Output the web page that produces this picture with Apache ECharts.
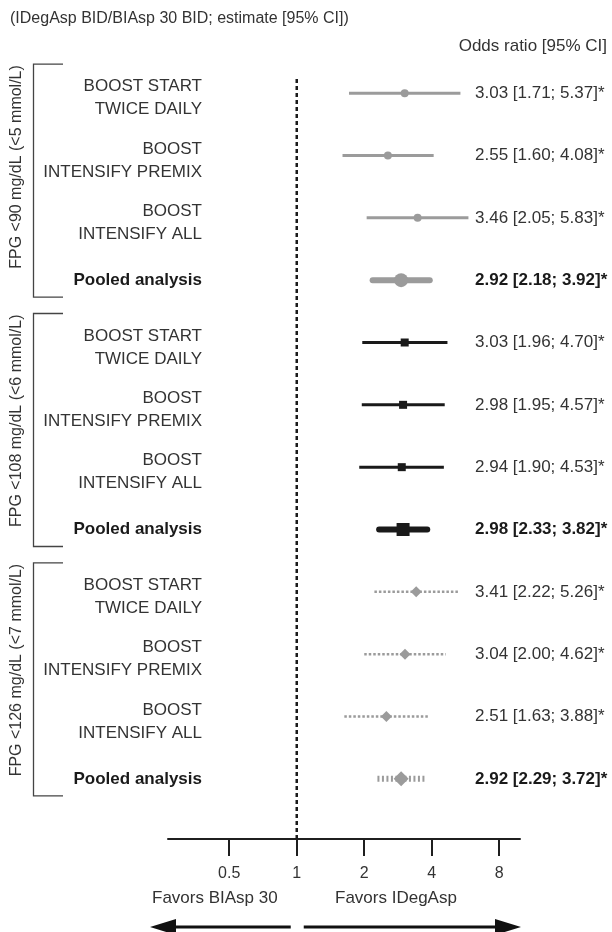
<!DOCTYPE html>
<html><head><meta charset="utf-8">
<script src="https://cdn.jsdelivr.net/npm/echarts@6/dist/echarts.min.js"></script>
<style>html,body{margin:0;padding:0;background:#fff}#c{width:612px;height:932px}</style>
</head><body><div id="c"></div>
<script>
// ---- data ----
const titleText = '(IDegAsp BID/BIAsp 30 BID; estimate [95% CI])';
const columnHeader = 'Odds ratio [95% CI]';
const groupLabels = ['FPG <90 mg/dL (<5 mmol/L)', 'FPG <108 mg/dL (<6 mmol/L)', 'FPG <126 mg/dL (<7 mmol/L)'];
const studies = ['BOOST START\nTWICE DAILY', 'BOOST\nINTENSIFY PREMIX', 'BOOST\nINTENSIFY ALL', 'Pooled analysis'];
const est90  = [3.03, 2.55, 3.46, 2.92];
const lo90   = [1.71, 1.60, 2.05, 2.18];
const hi90   = [5.37, 4.08, 5.83, 3.92];
const est108 = [3.03, 2.98, 2.94, 2.98];
const lo108  = [1.96, 1.95, 1.90, 2.33];
const hi108  = [4.70, 4.57, 4.53, 3.82];
const est126 = [3.41, 3.04, 2.51, 2.92];
const lo126  = [2.22, 2.00, 1.63, 2.29];
const hi126  = [5.26, 4.62, 3.88, 3.72];
const tickValues = [0.5, 1, 2, 4, 8];
const tickLabels = ['0.5', '1', '2', '4', '8'];
const axisMin = 0.2666, axisMax = 9.9;
const favorsLeft = 'Favors BIAsp 30';
const favorsRight = 'Favors IDegAsp';

// ---- build ----
const estAll = [est90, est108, est126], loAll = [lo90, lo108, lo126], hiAll = [hi90, hi108, hi126];
const rows = [], rowIds = [];
for (let g = 0; g < 3; g++) {
  for (let s = 0; s < studies.length; s++) {
    const r = g * studies.length + s;
    rowIds.push(String(r));
    rows.push([r, loAll[g][s], estAll[g][s], hiAll[g][s], g, s === studies.length - 1 ? 1 : 0, s]);
  }
}
const groupData = groupLabels.map((l, g) => [g * 4, g * 4 + 3, g]);

const FONT = '"Liberation Sans", Arial, sans-serif';
const TXT = '#333';
const GRAY = '#9b9b9b', BLACK = '#1a1a1a';
const styles = [
  { color: GRAY, shape: 'circle', lw: 3, lwP: 6, size: 8, sizeP: 14, dash: null, dashP: null },
  { color: BLACK, shape: 'square', lw: 3, lwP: 6, size: 8, sizeP: 13, dash: null, dashP: null },
  { color: GRAY, shape: 'diamond', lw: 2.5, lwP: 6, size: 11, sizeP: 15, dash: [2.5, 2], dashP: [2, 2.5] }
];

function marker(shape, cx, cy, sz, color) {
  const h = sz / 2;
  if (shape === 'circle') return { type: 'circle', shape: { cx, cy, r: h }, style: { fill: color } };
  if (shape === 'square') return { type: 'rect', shape: { x: cx - h, y: cy - h, width: sz, height: sz }, style: { fill: color } };
  return { type: 'polygon', shape: { points: [[cx, cy - h], [cx + h, cy], [cx, cy + h], [cx - h, cy]] }, style: { fill: color } };
}

const chart = echarts.init(document.getElementById('c'), null, { renderer: 'canvas' });
chart.setOption({
  animation: false,
  grid: { left: 168, right: 92, top: 62, bottom: 122 },
  xAxis: {
    type: 'log', logBase: 2, min: axisMin, max: axisMax, offset: 29,
    axisLine: { show: true, lineStyle: { color: '#1f1f1f', width: 2 } },
    axisTick: { show: true, length: 17, lineStyle: { color: '#1f1f1f', width: 2 }, customValues: tickValues },
    axisLabel: {
      customValues: tickValues, margin: 27, color: TXT, fontSize: 16, fontFamily: FONT,
      formatter: v => { let best = 0; tickValues.forEach((t, i) => { if (Math.abs(t - v) < Math.abs(tickValues[best] - v)) best = i; }); return tickLabels[best]; }
    },
    splitLine: { show: false }, minorTick: { show: false }
  },
  yAxis: { type: 'category', data: rowIds, inverse: true, show: false },
  series: [
    {
      type: 'custom', data: rows, encode: { x: [1, 2, 3], y: 0 }, clip: false,
      renderItem: (params, api) => {
        const row = api.value(0), g = api.value(4), pooled = api.value(5), s = api.value(6);
        const pLo = api.coord([api.value(1), row]);
        const pEst = api.coord([api.value(2), row]);
        const pHi = api.coord([api.value(3), row]);
        const st = styles[g];
        const cy = pEst[1];
        const children = [];
        children.push({
          type: 'line', shape: { x1: pLo[0], y1: cy, x2: pHi[0], y2: cy },
          style: { stroke: st.color, lineWidth: pooled ? st.lwP : st.lw, lineDash: pooled ? st.dashP : st.dash, lineCap: (pooled && !st.dash) ? 'round' : 'butt' }
        });
        children.push(marker(st.shape, pEst[0], cy, pooled ? st.sizeP : st.size, st.color));
        const label = studies[s];
        children.push({
          type: 'text', x: 202, y: cy + (pooled ? 0 : 5),
          style: { text: label, fill: pooled ? '#1a1a1a' : TXT, font: (pooled ? 'bold ' : '') + '17px ' + FONT, align: 'right', verticalAlign: 'middle', lineHeight: 23 }
        });
        const txt = api.value(2).toFixed(2) + ' [' + api.value(1).toFixed(2) + '; ' + api.value(3).toFixed(2) + ']*';
        children.push({
          type: 'text', x: 475, y: cy,
          style: { text: txt, fill: pooled ? '#1a1a1a' : TXT, font: (pooled ? 'bold ' : '') + '17px ' + FONT, align: 'left', verticalAlign: 'middle' }
        });
        return { type: 'group', children };
      }
    },
    {
      type: 'custom', data: groupData, encode: { y: [0, 1] }, clip: false,
      renderItem: (params, api) => {
        const top = api.coord([1, api.value(0)])[1] - 29;
        const bottom = api.coord([1, api.value(1)])[1] + 17;
        return {
          type: 'group', children: [
            { type: 'polyline', shape: { points: [[63, top], [33.5, top], [33.5, bottom], [63, bottom]] }, style: { stroke: '#444', lineWidth: 1.3, fill: null } },
            { type: 'text', x: 17, y: top + 1, rotation: Math.PI / 2, style: { text: groupLabels[api.value(2)], fill: TXT, font: '16px ' + FONT, align: 'right', verticalAlign: 'middle' } }
          ]
        };
      }
    }
  ]
});

const x1 = chart.convertToPixel({ xAxisIndex: 0 }, 1);
const axisY = 839;
chart.setOption({
  graphic: [
    { type: 'text', left: 10, top: 11, style: { text: titleText, fill: TXT, font: '16px ' + FONT } },
    { type: 'text', right: 5, top: 38, style: { text: columnHeader, fill: TXT, font: '17px ' + FONT } },
    { type: 'line', shape: { x1: x1, y1: 79, x2: x1, y2: axisY }, style: { stroke: '#1a1a1a', lineWidth: 2.5, lineDash: [4, 3] }, z: 10 },
    { type: 'text', x: 152, y: 898, style: { text: favorsLeft, fill: TXT, font: '17px ' + FONT, align: 'left', verticalAlign: 'middle' } },
    { type: 'text', x: 335, y: 898, style: { text: favorsRight, fill: TXT, font: '17px ' + FONT, align: 'left', verticalAlign: 'middle' } },
    { type: 'line', shape: { x1: 170, y1: 927, x2: x1 - 6, y2: 927 }, style: { stroke: '#111', lineWidth: 3 } },
    { type: 'polygon', shape: { points: [[150, 927], [176, 919], [176, 935]] }, style: { fill: '#111' } },
    { type: 'line', shape: { x1: x1 + 7, y1: 927, x2: 500, y2: 927 }, style: { stroke: '#111', lineWidth: 3 } },
    { type: 'polygon', shape: { points: [[521, 927], [495, 919], [495, 935]] }, style: { fill: '#111' } }
  ]
});
</script></body></html>
